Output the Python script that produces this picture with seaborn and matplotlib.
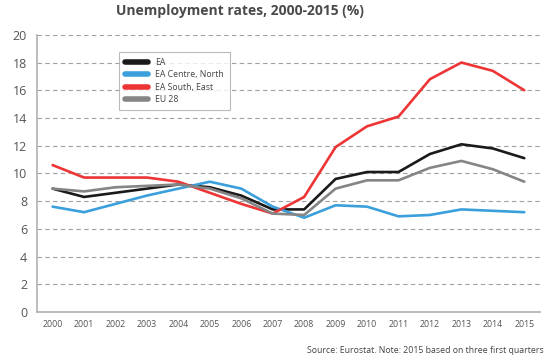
import pandas as pd
import numpy as np
import seaborn as sns
import matplotlib.pyplot as plt

# data
years = list(range(2000, 2016))
ea = [8.9, 8.3, 8.6, 8.9, 9.2, 9.0, 8.4, 7.4, 7.4, 9.6, 10.1, 10.1, 11.4, 12.1, 11.8, 11.1]
ea_north = [7.6, 7.2, 7.8, 8.4, 8.9, 9.4, 8.9, 7.6, 6.8, 7.7, 7.6, 6.9, 7.0, 7.4, 7.3, 7.2]
ea_south = [10.6, 9.7, 9.7, 9.7, 9.4, 8.6, 7.8, 7.1, 8.3, 11.9, 13.4, 14.1, 16.8, 18.0, 17.4, 16.0]
eu28 = [8.9, 8.7, 9.0, 9.1, 9.2, 8.9, 8.2, 7.1, 7.0, 8.9, 9.5, 9.5, 10.4, 10.9, 10.3, 9.4]

series = ["EA", "EA Centre, North", "EA South, East", "EU 28"]
colors = ["#1a1a1a", "#3a9fdb", "#ee3535", "#858585"]

df = pd.DataFrame({
    "year": years * 4,
    "rate": ea + ea_north + ea_south + eu28,
    "series": [s for s in series for _ in years],
})

sns.set_style("white")
plt.rcParams['font.family'] = ['Open Sans', 'DejaVu Sans']

fig = plt.figure(figsize=(5.59, 3.59), dpi=100)
ax = fig.add_axes([0.066, 0.131, 0.9, 0.772])

sns.lineplot(data=df, x="year", y="rate", hue="series", palette=colors,
             hue_order=series, linewidth=1.9, ax=ax, legend=False)

ax.set_xlim(1999.5, 2015.5)
ax.set_ylim(0, 20)
ax.set_xticks(years)
ax.set_xticklabels([str(y) for y in years], fontsize=6.3, color="#555555")
ax.set_yticks(range(0, 21, 2))
ax.set_yticklabels([str(v) for v in range(0, 21, 2)], fontsize=9, color="#555555")
ax.tick_params(axis="x", length=0, pad=6)
ax.tick_params(axis="y", length=3, color="#aaaaaa", pad=4)
ax.set_xlabel("")
ax.set_ylabel("")

ax.grid(axis="y", linestyle=(0, (4, 3)), color="#a0a0a0", linewidth=0.8)
ax.set_axisbelow(True)
for side in ["top", "right"]:
    ax.spines[side].set_visible(False)
for side in ["left", "bottom"]:
    ax.spines[side].set_color("#b0b0b0")
    ax.spines[side].set_linewidth(1.2)

# legend box, thick handles like the original
handles = [plt.Line2D([0], [0], color=c, linewidth=4) for c in colors]
leg = ax.legend(handles, series, loc="upper left", bbox_to_anchor=(0.155, 0.955),
                fontsize=6.3, frameon=True, fancybox=False, handlelength=2.6,
                labelspacing=0.4, borderpad=0.7, labelcolor="#444444")
leg.get_frame().set_edgecolor("#aaaaaa")
leg.get_frame().set_linewidth(0.8)

fig.text(0.43, 0.968, "Unemployment rates, 2000-2015 (%)", ha="center", va="center",
         fontsize=10, fontweight="bold", color="#4a4a4a")
fig.text(0.972, 0.025, "Source: Eurostat. Note: 2015 based on three first quarters",
         ha="right", va="center", fontsize=6.3, color="#444444")

fig.savefig("out.png", dpi=100)
